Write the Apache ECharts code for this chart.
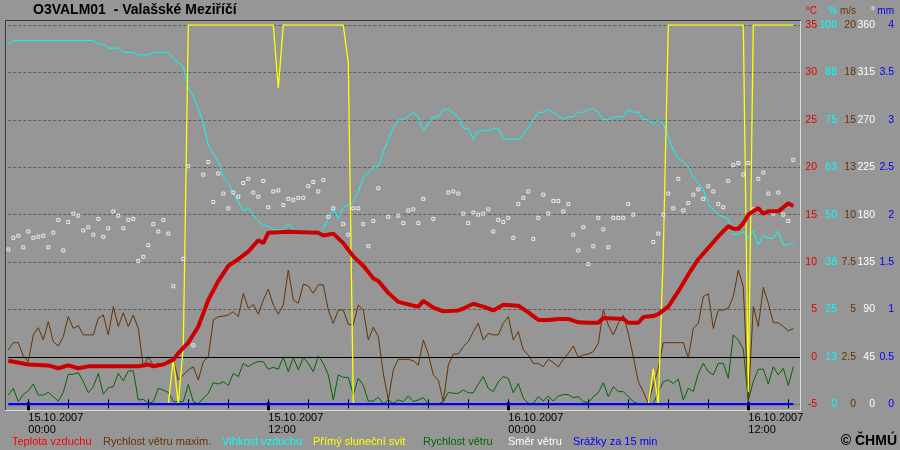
<!DOCTYPE html>
<html><head><meta charset="utf-8">
<script src="https://cdn.jsdelivr.net/npm/echarts@6/dist/echarts.min.js"></script>
<style>html,body{margin:0;padding:0;background:#969696}#c{width:900px;height:450px}</style>
</head><body><div id="c"></div>
<script>
// time in hours relative to 15.10.2007 00:00; 15-minute series start at 14.10.2007 23:00
const seriesStartHour = -1;
const seriesStepHours = 0.25;

const tempHours = [-1,0,1,1.5,2,2.5,3,5.5,6,6.25,6.75,7.25,7.5,8,8.5,9,9.5,10,10.5,11,11.5,11.75,12,13,14.5,14.75,15.25,15.75,16.25,16.75,17.25,17.5,18,18.5,19.25,19.5,19.75,20.25,20.75,21.5,21.75,22.25,22.75,23.25,23.75,24.5,25,25.5,26,26.5,27,27.5,28,28.5,28.75,29.25,29.75,30,30.5,30.75,31.25,31.5,32,32.5,33,33.5,34,34.5,35,35.25,35.5,35.75,36,36.5,36.75,37,37.5,38,38.25];
const tempValues = [-0.4,-0.8,-0.9,-1.2,-0.9,-1.2,-1.0,-1.0,-0.8,-1.0,-0.8,-0.3,0.4,1.5,3.2,6.0,8.0,9.6,10.3,11.1,12.3,12.0,13.1,13.2,13.1,12.8,13.0,12.0,10.6,9.6,8.3,8.0,6.75,5.8,5.4,5.3,5.9,5.2,4.8,4.9,5.1,5.6,5.3,4.9,5.5,5.4,4.7,3.9,3.9,4.0,4.0,3.65,3.6,3.6,4.1,4.05,4.0,3.6,3.6,4.2,4.3,4.5,5.3,6.9,8.7,10.3,11.5,12.7,13.8,13.5,13.5,14.1,15.0,15.7,15.1,15.35,15.35,16.2,15.9];

const humHours = [-1,-0.75,3.25,3.5,3.75,4,4.5,4.75,5.25,5.5,6,6.25,7,7.25,7.5,7.75,8,8.25,8.5,8.75,9,9.25,9.5,9.75,10,10.25,10.5,10.75,11,11.25,11.75,12,12.25,12.75,13,13.25,13.5,14.25,14.5,14.75,15,15.25,15.5,15.75,16,16.25,16.5,16.75,17,17.25,17.5,17.75,18,18.25,18.5,18.75,19.25,19.5,19.75,20.25,20.5,20.75,21,21.5,21.75,22,22.25,22.5,23,23.25,23.5,23.75,24.5,24.75,25.25,25.5,25.75,26,26.25,26.75,27,27.25,27.5,27.75,28,28.25,28.5,28.75,29,29.25,29.75,30,30.25,30.5,30.75,31,31.25,31.5,31.75,32,32.25,32.5,32.75,33,33.25,33.5,33.75,34,34.25,34.5,34.75,35,35.25,35.5,35.75,36,36.25,36.5,36.75,37,37.25,37.5,37.75,38,38.25];
const humValues = [94.9,95.9,95.9,95.0,95.0,93.9,93.9,92.8,92.8,92.1,92.1,92.8,92.8,91.2,90.1,89.0,83.7,81.1,78.0,74.1,68.4,66.2,64.0,60.0,58.3,55.6,53.4,51.0,51.9,49.9,47.0,47.0,46.0,46.0,47.7,46.0,45.7,45.7,45.1,46.4,49.0,51.5,49.0,51.9,52.5,53.4,56.1,60.0,60.9,62.6,62.6,66.6,69.7,72.8,75.0,75.0,77.0,75.8,72.1,75.8,75.8,77.8,77.8,75.8,72.8,72.8,69.9,72.1,72.1,72.8,72.8,69.9,69.9,71.0,75.0,77.0,77.0,77.8,77.0,75.2,75.8,75.8,77.0,77.0,77.8,77.8,77.0,75.0,75.0,75.8,75.8,77.8,77.0,77.0,75.0,75.0,73.9,75.0,73.9,70.6,67.0,64.9,64.0,62.6,60.0,58.3,56.5,53.0,51.2,50.0,49.5,48.8,44.8,44.8,45.5,43.8,45.7,42.0,44.6,43.8,43.8,45.7,42.0,42.0,42.7];

// 15-minute series (158 values each)
const windMax = [
2.86,3.25,3.25,2.55,2.25,3.66,4.04,3.39,4.36,3.3,
3.07,3.57,4.62,4.0,4.15,3.66,3.66,3.66,4.54,4.71,
3.66,5.15,4.1,4.83,4.1,4.71,4.0,1.98,2.51,2.07,
2.16,2.07,2.34,2.37,1.28,1.55,1.81,1.98,1.28,2.25,
2.51,4.45,4.62,4.65,4.71,4.88,4.62,5.85,5.06,5.27,
4.75,5.5,6.07,5.24,4.75,5.24,7.08,5.5,5.33,6.34,
6.24,5.85,6.3,6.3,4.97,4.27,4.97,4.97,4.22,4.2,
5.24,4.97,3.39,4.06,3.57,1.63,0.23,1.81,2.37,
2.37,2.37,2.3,2.07,3.39,2.65,1.55,1.28,0.14,2.07,
2.65,2.65,3.04,3.3,3.83,4.27,3.39,3.74,3.66,3.66,
4.27,4.62,3.39,3.83,2.86,2.6,2.16,2.16,1.98,2.37,
2.2,1.98,2.37,2.69,3.07,2.48,2.6,2.65,2.78,3.22,
4.97,4.18,3.66,4.27,4.71,3.74,2.51,1.19,0.66,0.05,
1.02,1.9,3.25,3.25,3.25,3.25,3.25,2.43,4.0,4.27,
5.68,5.83,4.0,4.97,4.97,5.06,5.68,7.08,6.2,0.14,
5.15,4.1,6.16,5.33,4.3,4.3,4.1,3.87,4.0];
const windSpeed = [
0.49,0.84,0.14,0.51,0.72,1.07,0.49,0.49,0.63,0.4,
0.17,0.63,1.58,1.58,1.67,1.19,0.61,0.93,1.63,0.53,
0.88,0.93,1.63,1.24,1.76,1.76,0.23,0.26,0.05,0.14,
0.84,0.75,0.63,0.14,0.14,0.14,1.05,0.14,0.02,0.32,
0.58,1.14,1.07,1.19,1.0,1.63,1.46,2.16,1.98,2.16,
2.25,2.25,1.85,1.95,1.85,2.48,1.72,2.48,1.81,2.48,
2.16,1.72,2.55,2.16,1.55,0.23,1.55,1.42,1.42,0.51,
1.37,1.0,0.17,0.17,0.37,0.02,0.23,0.05,0.23,
0.14,0.44,0.14,0.23,0.35,0.02,0.02,0.02,0.14,0.63,
0.58,0.58,0.75,0.61,0.61,1.07,1.46,0.84,0.67,1.19,
1.46,1.37,0.61,1.1,0.32,0.05,0.05,0.4,0.17,0.44,
0.17,0.44,0.51,0.51,0.35,0.4,0.14,0.09,0.4,0.61,
1.14,0.4,0.93,0.67,0.67,0.4,0.14,0.02,0.02,0.02,
0.02,0.67,1.19,1.28,1.1,1.33,0.23,0.84,0.67,1.63,
2.16,1.72,1.55,2.16,2.16,1.37,3.66,3.39,2.9,0.23,
1.19,1.85,1.85,1.07,1.98,1.55,1.9,1.0,1.98];
const windDir = [
147,158,160,149,164,158,159,160,149,163,
175,146,173,181,179,165,168,161,176,159,
167,183,179,167,175,176,136,140,151,171,
164,175,162,112,null,138,226,56,null,218,
230,192,219,200,186,201,197,210,214,201,
197,212,187,202,203,189,195,194,196,196,
207,211,202,213,178,186,null,171,161,186,
186,171,150,174,205,null,178,null,179,
172,184,185,172,195,null,176,null,null,201,
202,200,181,172,182,180,181,185,164,175,
173,177,158,190,196,202,157,177,199,181,
193,193,183,190,161,146,168,133,150,177,
166,149,177,177,177,190,180,null,null,null,
154,162,180,200,186,214,184,191,199,204,
195,207,202,190,187,212,227,229,218,229,
185,214,220,200,181,201,180,174,232];
// direct sunshine, minutes per 15 min
const sunshine = [
0,0,0,0,0,0,0,0,0,0,0,0,0,0,0,0,0,0,0,0,0,0,0,0,0,0,0,0,0,0,0,0,
0,1.8,0,2.3,
15,15,15,15,15,15,15,15,15,15,15,15,15,15,15,15,15,15,
12.5,
15,15,15,15,15,15,15,15,15,15,15,15,15,
13.5,
0,0,0,0,0,0,0,0,0,0,0,0,0,0,0,0,0,0,0,0,0,0,0,0,0,0,0,0,0,0,
0,0,0,0,0,0,0,0,0,0,0,0,0,0,0,0,0,0,0,0,0,0,0,0,0,0,0,0,0,
0,1.4,0,6,
15,15,15,15,15,15,15,15,15,15,15,15,15,15,15,15,
0.5,
15,15,15,15,15,15,15,15,15];
const precipHours = [-1, 38.25];
const precipValues = [0, 0];

const humLabels = ['0','13','25','38','50','63','75','88','100'];
const windLabels = ['0','2.5','5','7.5','10','13','15','18','20'];
const dateLabels = {0:'15.10.2007\n00:00', 12:'15.10.2007\n12:00', 24:'16.10.2007\n00:00', 36:'16.10.2007\n12:00'};
const minorTickHours = [0,2,4,6,8,10,12,14,16,18,20,22,24,26,28,30,32,34,36,38];
const majorTickHours = [0,12,24,36];
const legendNames = ['Teplota vzduchu','Rychlost větru maxim.','Vlhkost vzduchu','Přímý sluneční svit','Rychlost větru','Směr větru','Srážky za 15 min'];
const unitNames = ['°C','%','m/s','°','mm'];

const C = {temp:'#cc0000', tempTxt:'#e00000', hum:'#00ffff', wmax:'#663300', sun:'#ffff00', wind:'#006600', dir:'#ffffff', rain:'#0000ff'};
const FONT = '"Liberation Sans", Arial, sans-serif';

const pairs = (hours, vals) => vals.map((v, i) => [hours[i], v]);
const idxPairs = vals => vals.map((v, i) => [seriesStartHour + i * seriesStepHours, v]);

const chart = echarts.init(document.getElementById('c'), null, {renderer:'canvas'});

function rightAxis(min, max, interval, color, margin, fmt, extra) {
  return Object.assign({
    type:'value', position:'right', min, max, interval, offset:0,
    axisLine:{show:false}, axisTick:{show:false}, splitLine:{show:false},
    axisLabel:{show:true, color, align:'right', margin, fontSize:10.5, fontFamily:FONT, formatter:fmt}
  }, extra || {});
}

const xMin = -1, xMax = 38.585;
const option = {
  backgroundColor:'#969696',
  animation:false,
  grid:{left:8.3, right:100, top:25, bottom:45.7},
  xAxis:[
    {type:'value', min:xMin, max:xMax, position:'bottom', offset:4,
     axisLine:{show:false, onZero:false}, splitLine:{show:false}, axisLabel:{show:false},
     axisTick:{show:true, inside:true, length:9, customValues:minorTickHours, lineStyle:{color:'#000', width:1}}},
    {type:'value', min:xMin, max:xMax, position:'bottom', offset:6,
     axisLine:{show:false, onZero:false}, splitLine:{show:false},
     axisTick:{show:true, inside:true, length:8, customValues:majorTickHours, lineStyle:{color:'#000', width:3}},
     axisLabel:{show:true, customValues:majorTickHours, align:'left', margin:2, color:'#000', fontSize:11, lineHeight:12, fontFamily:FONT,
       formatter: v => dateLabels[Math.round(v)] || ''}}
  ],
  yAxis:[
    rightAxis(-5, 35, 5, C.tempTxt, 17, v => String(v),
      {splitLine:{show:true, lineStyle:{color:'#5c5c5c', type:[3,2], width:1}}}),
    rightAxis(0, 100, 12.5, C.hum, 37, v => humLabels[Math.round(v/12.5)]),
    rightAxis(0, 20, 2.5, C.wmax, 56, v => windLabels[Math.round(v/2.5)]),
    rightAxis(0, 360, 45, C.dir, 75, v => String(v)),
    rightAxis(0, 4, 0.5, C.rain, 94, v => String(v)),
    {type:'value', min:0, max:15, show:false}
  ],
  series:[
    {type:'line', name:'zero', yAxisIndex:0, data:[], z:1, silent:true,
     markLine:{silent:true, symbol:['none','none'], label:{show:false},
       lineStyle:{color:'#000', type:'solid', width:1}, data:[{yAxis:0}]}},
    {type:'line', name:legendNames[4], yAxisIndex:2, data:idxPairs(windSpeed), showSymbol:false,
     lineStyle:{color:C.wind, width:1}, z:3},
    {type:'line', name:legendNames[1], yAxisIndex:2, data:idxPairs(windMax), showSymbol:false,
     lineStyle:{color:C.wmax, width:1}, z:4},
    {type:'line', name:legendNames[2], yAxisIndex:1, data:pairs(humHours, humValues), showSymbol:false,
     lineStyle:{color:C.hum, width:1}, z:5},
    {type:'line', name:legendNames[3], yAxisIndex:5, data:idxPairs(sunshine), showSymbol:false,
     lineStyle:{color:C.sun, width:1.3}, z:6},
    {type:'line', name:legendNames[6], yAxisIndex:4, data:pairs(precipHours, precipValues), showSymbol:false,
     lineStyle:{color:C.rain, width:2.5}, z:7},
    {type:'scatter', name:legendNames[5], yAxisIndex:3, data:idxPairs(windDir).filter(p => p[1] !== null),
     symbol:'rect', symbolSize:3, itemStyle:{color:'#969696', borderColor:'#ffffff', borderWidth:1}, z:8},
    {type:'line', name:legendNames[0], yAxisIndex:0, data:pairs(tempHours, tempValues), showSymbol:false,
     lineStyle:{color:C.temp, width:4}, z:9}
  ],
  graphic:[
    {type:'line', shape:{x1:5, y1:20.5, x2:801, y2:20.5}, style:{stroke:'#3a3a3a', lineWidth:1}, silent:true},
    {type:'line', shape:{x1:5.5, y1:20, x2:5.5, y2:411}, style:{stroke:'#3a3a3a', lineWidth:1}, silent:true},
    {type:'line', shape:{x1:800.5, y1:21, x2:800.5, y2:411}, style:{stroke:'#dcdcdc', lineWidth:1}, silent:true},
    {type:'line', shape:{x1:5, y1:410.5, x2:801, y2:410.5}, style:{stroke:'#dcdcdc', lineWidth:1}, silent:true},
    {type:'text', left:33, top:3, style:{text:'O3VALM01  - Valašské Meziříčí', fill:'#000', font:'bold 14px '+FONT}},
    {type:'text', x:817, y:11, style:{text:unitNames[0], fill:C.tempTxt, font:'10px '+FONT, textAlign:'right', textVerticalAlign:'middle'}},
    {type:'text', x:837, y:11, style:{text:unitNames[1], fill:C.hum, font:'10px '+FONT, textAlign:'right', textVerticalAlign:'middle'}},
    {type:'text', x:856, y:11, style:{text:unitNames[2], fill:C.wmax, font:'10px '+FONT, textAlign:'right', textVerticalAlign:'middle'}},
    {type:'text', x:875, y:11, style:{text:unitNames[3], fill:C.dir, font:'10px '+FONT, textAlign:'right', textVerticalAlign:'middle'}},
    {type:'text', x:894, y:11, style:{text:unitNames[4], fill:C.rain, font:'10px '+FONT, textAlign:'right', textVerticalAlign:'middle'}},
    {type:'text', x:12, y:442, style:{text:legendNames[0], fill:'#ff0000', font:'11px '+FONT, textVerticalAlign:'middle'}},
    {type:'text', x:103, y:442, style:{text:legendNames[1], fill:C.wmax, font:'11px '+FONT, textVerticalAlign:'middle'}},
    {type:'text', x:222, y:442, style:{text:legendNames[2], fill:C.hum, font:'11px '+FONT, textVerticalAlign:'middle'}},
    {type:'text', x:313, y:442, style:{text:legendNames[3], fill:C.sun, font:'11px '+FONT, textVerticalAlign:'middle'}},
    {type:'text', x:423, y:442, style:{text:legendNames[4], fill:C.wind, font:'11px '+FONT, textVerticalAlign:'middle'}},
    {type:'text', x:508, y:442, style:{text:legendNames[5], fill:C.dir, font:'11px '+FONT, textVerticalAlign:'middle'}},
    {type:'text', x:573, y:442, style:{text:legendNames[6], fill:C.rain, font:'11px '+FONT, textVerticalAlign:'middle'}},
    {type:'text', x:897, y:441, style:{text:'© ČHMÚ', fill:'#000', font:'bold 14px '+FONT, textAlign:'right', textVerticalAlign:'middle'}}
  ]
};
chart.setOption(option);
</script>
</body></html>
